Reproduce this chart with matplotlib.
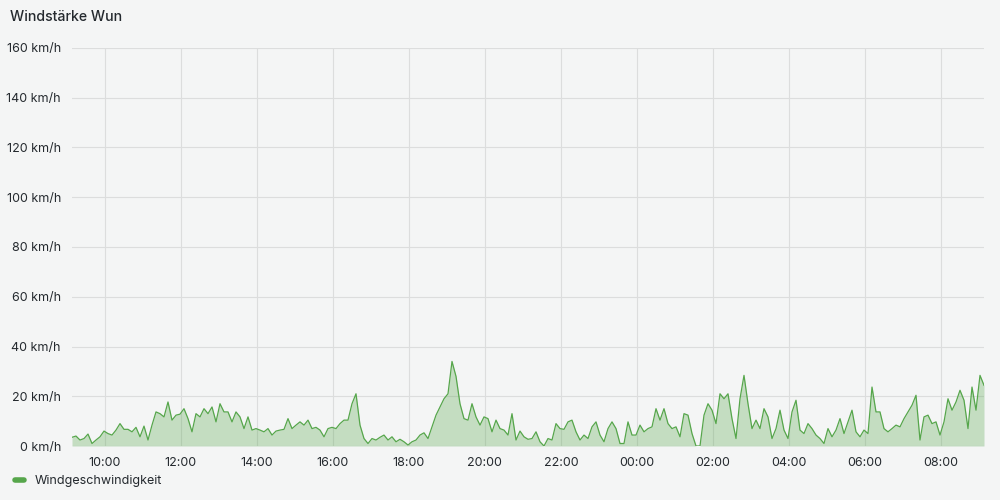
import matplotlib
matplotlib.use("Agg")
import matplotlib.pyplot as plt
import matplotlib.dates as mdates
from matplotlib.lines import Line2D
import pandas as pd

plt.rcParams['font.family'] = ['Inter', 'DejaVu Sans']

title = "Windstärke Wun"
series_name = "Windgeschwindigkeit"
start_time = "2024-01-01 09:08"
end_time = "2024-01-02 09:08"

wind_kmh = [
    3.5, 4, 2.4, 3, 4.8, 1, 2.4, 3.7, 6, 5, 4.4, 6.4, 9, 6.7, 6.7, 5.7, 7.5, 3.7, 8, 2.4,
    8.4, 13.7, 13, 11.7, 17.7, 10.4, 12.4, 12.8, 15, 11, 5.7, 13, 11.7, 15,
    13, 15.7, 9.7, 17, 13.7, 13.7, 9.7, 13.7, 11.7, 7, 11.7, 6.4, 7, 6.4, 5.7, 7, 4.4, 6,
    6.4, 6.7, 11, 7, 8.4, 9.7, 8.4, 10.4, 7, 7.5, 6.4, 3.7, 7, 7.5, 7, 9,
    10.4, 10.4, 17, 21, 8.4, 3, 1, 3, 2.4, 3.5, 4.4, 2.4, 3.7, 1.7, 2.7, 1.7, 0.4, 1.7,
    2.4, 4.4, 5.3, 3, 7.7, 12.4, 15.7, 19, 21, 34, 28, 17, 11, 10.4, 17,
    11.7, 8.4, 11.7, 11, 5.7, 10.4, 7, 6.4, 4.4, 13, 2.4, 6, 3.7, 2.7, 3, 5.7, 1.7, 0,
    3, 2.4, 9, 7, 6.7, 9.7, 10.4, 5.7, 2.4, 4.4, 3, 7.7, 9.7, 4.4, 1.7,
    7, 9.7, 7, 1, 1, 9.7, 4.4, 4.4, 8.4, 5.7, 7, 7.7, 15, 10.4, 15, 9, 7, 7.7, 3.7, 13,
    12.4, 5, 0, 0, 12.4, 17, 14.4, 9, 21, 19, 21, 11, 3, 19,
    28.4, 17, 7, 10.4, 7, 15, 11.7, 3, 7, 14.4, 6.4, 3, 13.7, 18.4, 6.4, 5, 9, 7, 4.4, 3,
    1, 7, 3.7, 6.4, 11, 5, 9.7, 14.4, 5.7, 3.7, 6.4, 5,
    23.7, 13.7, 13.7, 7, 5.7, 7, 8.4, 7.7, 11, 13.7, 16.4, 20.4, 2.4, 11.7, 12.4, 9, 9.7,
    4.4, 9.7, 19, 14.4, 17.7, 22.4, 18.4, 7, 23.7, 14.4, 28.4, 24.4,
]
y_ticks = [0, 20, 40, 60, 80, 100, 120, 140, 160]

times = pd.date_range(start_time, end_time, periods=len(wind_kmh))

bg = "#f4f5f5"
line_color = "#56a64b"
text_color = "#24292e"

fig = plt.figure(figsize=(10, 5), dpi=100, facecolor=bg)
ax = fig.add_axes([0.072, 0.108, 0.912, 0.796], facecolor=bg)

ax.fill_between(times, wind_kmh, 0, color=line_color, alpha=0.3, linewidth=0)
ax.plot(times, wind_kmh, color=line_color, linewidth=0.9)

ax.set_ylim(0, 160)
ax.set_xlim(times[0], times[-1])
ax.set_yticks(y_ticks)
ax.set_yticklabels([f"{v} km/h" for v in y_ticks])
ax.xaxis.set_major_locator(mdates.HourLocator(byhour=range(0, 24, 2)))
ax.xaxis.set_major_formatter(mdates.DateFormatter("%H:%M"))

ax.grid(True, color="#dcdddd", linewidth=0.8)
ax.set_axisbelow(True)
for s in ax.spines.values():
    s.set_visible(False)
ax.tick_params(axis='both', length=0, labelsize=9, colors=text_color, pad=8)
ax.tick_params(axis='x', pad=8)

fig.text(0.010, 0.966, title, fontsize=10.2, fontweight='medium', color=text_color,
         va='center', ha='left')

handle = Line2D([], [], color=line_color, linewidth=4, solid_capstyle='round')
fig.legend([handle], [series_name], loc='center left', bbox_to_anchor=(0.015, 0.038),
           frameon=False, fontsize=9, handlelength=0.75, handletextpad=0.8,
           labelcolor=text_color, borderaxespad=0, borderpad=0)

fig.savefig("out.png", dpi=100, facecolor=bg)
